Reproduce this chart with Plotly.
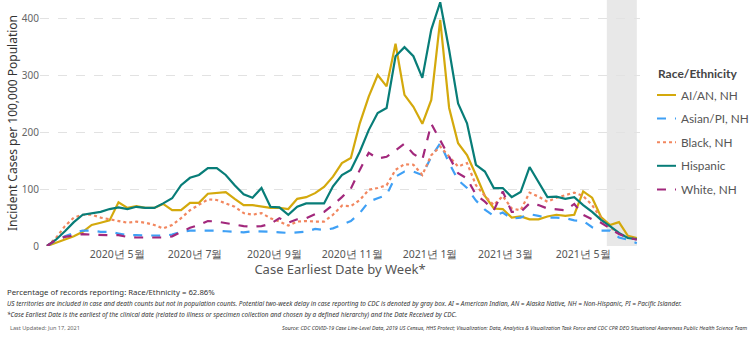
import pandas as pd
import plotly.graph_objects as go

# Weekly case earliest dates
weeks = pd.date_range("2020-03-07", periods=67, freq="7D")

ai_an = [0, 6, 12, 17, 25, 37, 41, 45, 77, 67, 70, 67, 67, 74, 63, 63, 76, 76, 92, 93,
         95, 83, 72, 72, 69, 67, 67, 65, 83, 86, 93, 104, 122, 146, 155, 216, 263, 301, 281, 356,
         266, 245, 215, 257, 398, 243, 181, 160, 125, 88, 66, 65, 50, 52, 47, 47, 52, 55, 53, 55,
         96, 85, 51, 37, 42, 18, 14]
asian_pi = [0, 10, 17, 23, 27, 27, 25, 25, 22, 19, 19, 19, 18, 18, 20, 25, 27, 27, 28, 27,
            26, 25, 24, 26, 26, 25, 24, 23, 24, 25, 30, 28, 31, 37, 44, 58, 78, 84, 90, 122,
            131, 131, 125, 157, 181, 146, 116, 102, 80, 64, 53, 59, 48, 50, 56, 53, 50, 50, 49, 45,
            44, 33, 27, 27, 15, 11, 5]
black = [0, 14, 35, 50, 55, 55, 50, 47, 45, 41, 43, 41, 37, 31, 37, 49, 63, 72, 82, 81,
         75, 69, 58, 55, 58, 49, 43, 36, 43, 44, 43, 43, 55, 71, 70, 81, 99, 102, 107, 134,
         144, 143, 125, 160, 175, 157, 140, 146, 107, 88, 72, 88, 66, 63, 94, 87, 78, 85, 90, 94,
         88, 72, 49, 33, 22, 15, 12]
hispanic = [0, 11, 26, 42, 55, 58, 60, 65, 68, 65, 69, 67, 67, 75, 84, 107, 120, 125, 137, 137,
            125, 107, 91, 85, 102, 69, 68, 55, 69, 75, 75, 75, 105, 125, 134, 166, 204, 234, 243, 334,
            350, 334, 296, 381, 429, 345, 251, 216, 143, 131, 102, 102, 86, 95, 139, 112, 86, 87, 83, 86,
            72, 60, 46, 35, 23, 14, 12]
white = [0, 11, 16, 19, 21, 20, 19, 19, 19, 16, 15, 15, 15, 15, 17, 25, 32, 37, 44, 43,
         40, 37, 35, 34, 35, 39, 49, 41, 47, 49, 56, 60, 72, 86, 101, 134, 164, 154, 157, 168,
         180, 162, 152, 215, 187, 157, 128, 119, 90, 78, 63, 96, 60, 60, 75, 72, 66, 65, 63, 74,
         55, 47, 41, 31, 21, 15, 11]

series_names = ["AI/AN, NH", "Asian/PI, NH", "Black, NH", "Hispanic", "White, NH"]
series_values = [ai_an, asian_pi, black, hispanic, white]
series_colors = ["#D4A90C", "#3FA0F5", "#F2875F", "#087D78", "#A2287C"]
series_dash = ["solid", "dash", "dot", "solid", "dash"]

tick_dates = ["2020-05-01", "2020-07-01", "2020-09-01", "2020-11-01",
              "2021-01-01", "2021-03-01", "2021-05-01"]
tick_labels = ["2020년 5월", "2020년 7월", "2020년 9월", "2020년 11월",
               "2021년 1월", "2021년 3월", "2021년 5월"]

delay_start = "2021-05-19 12:00"
delay_end = "2021-06-12"

# plot area geometry in pixels
W, H = 756, 337
L, R, T, B = 40, 640, 0, 246
PW, PH = R - L, B - T


def px(x):
    return (x - L) / PW


def py(y):
    return 1 - (y - T) / PH


fig = go.Figure()

# gray box marking the reporting delay window
fig.add_shape(type="rect", xref="x", yref="paper", x0=delay_start, x1=delay_end,
              y0=0, y1=1, fillcolor="#E8E8E8", line_width=0, layer="below")

for name, vals, color, dash in zip(series_names, series_values, series_colors, series_dash):
    fig.add_trace(go.Scatter(
        x=weeks, y=vals, name=name, mode="lines", showlegend=False,
        line=dict(color=color, width=2.2, dash=dash),
    ))

font_family = "Noto Sans, Open Sans, sans-serif"
legend_font = "Lato, Noto Sans, sans-serif"

fig.update_layout(
    width=W, height=H,
    margin=dict(l=L, r=W - R, t=T, b=H - B, autoexpand=False),
    paper_bgcolor="white", plot_bgcolor="white",
    font=dict(family=font_family, color="#555555"),
    showlegend=False,
    xaxis=dict(
        range=["2020-03-01 12:00", "2021-06-14 12:00"],
        tickvals=tick_dates, ticktext=tick_labels,
        tickfont=dict(size=10.5, color="#555555"),
        showgrid=False, zeroline=False, showline=False, ticks="",
        title=dict(text="Case Earliest Date by Week*", font=dict(size=13, color="#555555"),
                   standoff=4),
    ),
    yaxis=dict(
        range=[0, 433],
        tickvals=[0, 100, 200, 300, 400],
        tickfont=dict(size=10, color="#666666"),
        showgrid=True, gridcolor="#E2E2E2", griddash="dash", gridwidth=1,
        zeroline=False, showline=False, ticks="",
        title=dict(text="Incident Cases per 100,000 Population",
                   font=dict(size=12, color="#333333"), standoff=1),
    ),
)

# legend drawn as line samples with labels
fig.add_annotation(
    xref="paper", yref="paper", x=px(656), y=py(73), xanchor="left", yanchor="middle",
    showarrow=False, text="<b>Race/Ethnicity</b>",
    font=dict(size=12, color="#444444", family=legend_font),
)
for k, (name, color, dash) in enumerate(zip(series_names, series_colors, series_dash)):
    yc = 95 + k * 23.6
    fig.add_shape(type="line", xref="paper", yref="paper",
                  x0=px(657), x1=px(676), y0=py(yc), y1=py(yc),
                  line=dict(color=color, width=2, dash=dash))
    fig.add_annotation(
        xref="paper", yref="paper", x=px(679), y=py(yc), xanchor="left", yanchor="middle",
        showarrow=False, text=name,
        font=dict(size=11.8, color="#555555", family=legend_font),
    )

notes = [
    (5, 292, "Percentage of records reporting: Race/Ethnicity = 62.86%", False, 7.8),
    (5, 303, "US territories are included in case and death counts but not in population counts. "
             "Potential two-week delay in case reporting to CDC is denoted by gray box. AI = American Indian, "
             "AN = Alaska Native, NH = Non-Hispanic, PI = Pacific Islander.", True, 6.4),
    (5, 314, "*Case Earliest Date is the earliest of the clinical date (related to illness or specimen "
             "collection and chosen by a defined hierarchy) and the Date Received by CDC.", True, 6.4),
]
for x, y, text, italic, size in notes:
    fig.add_annotation(
        xref="paper", yref="paper", x=px(x), y=py(y),
        xanchor="left", yanchor="middle", showarrow=False,
        text=f"<i>{text}</i>" if italic else text,
        font=dict(size=size, color="#333333", family=font_family),
    )

fig.add_annotation(
    xref="paper", yref="paper", x=px(8), y=py(328),
    xanchor="left", yanchor="middle", showarrow=False,
    text="Last Updated: Jun 17, 2021",
    font=dict(size=5.6, color="#666666", family=font_family),
)
fig.add_annotation(
    xref="paper", yref="paper", x=px(750), y=py(328),
    xanchor="right", yanchor="middle", showarrow=False,
    text="<i>Source: CDC COVID-19 Case Line-Level Data, 2019 US Census, HHS Protect; Visualization: "
         "Data, Analytics &amp; Visualization Task Force and CDC CPR DEO Situational Awareness Public "
         "Health Science Team</i>",
    font=dict(size=5.3, color="#333333", family=font_family),
)

fig.write_html("out.html")
